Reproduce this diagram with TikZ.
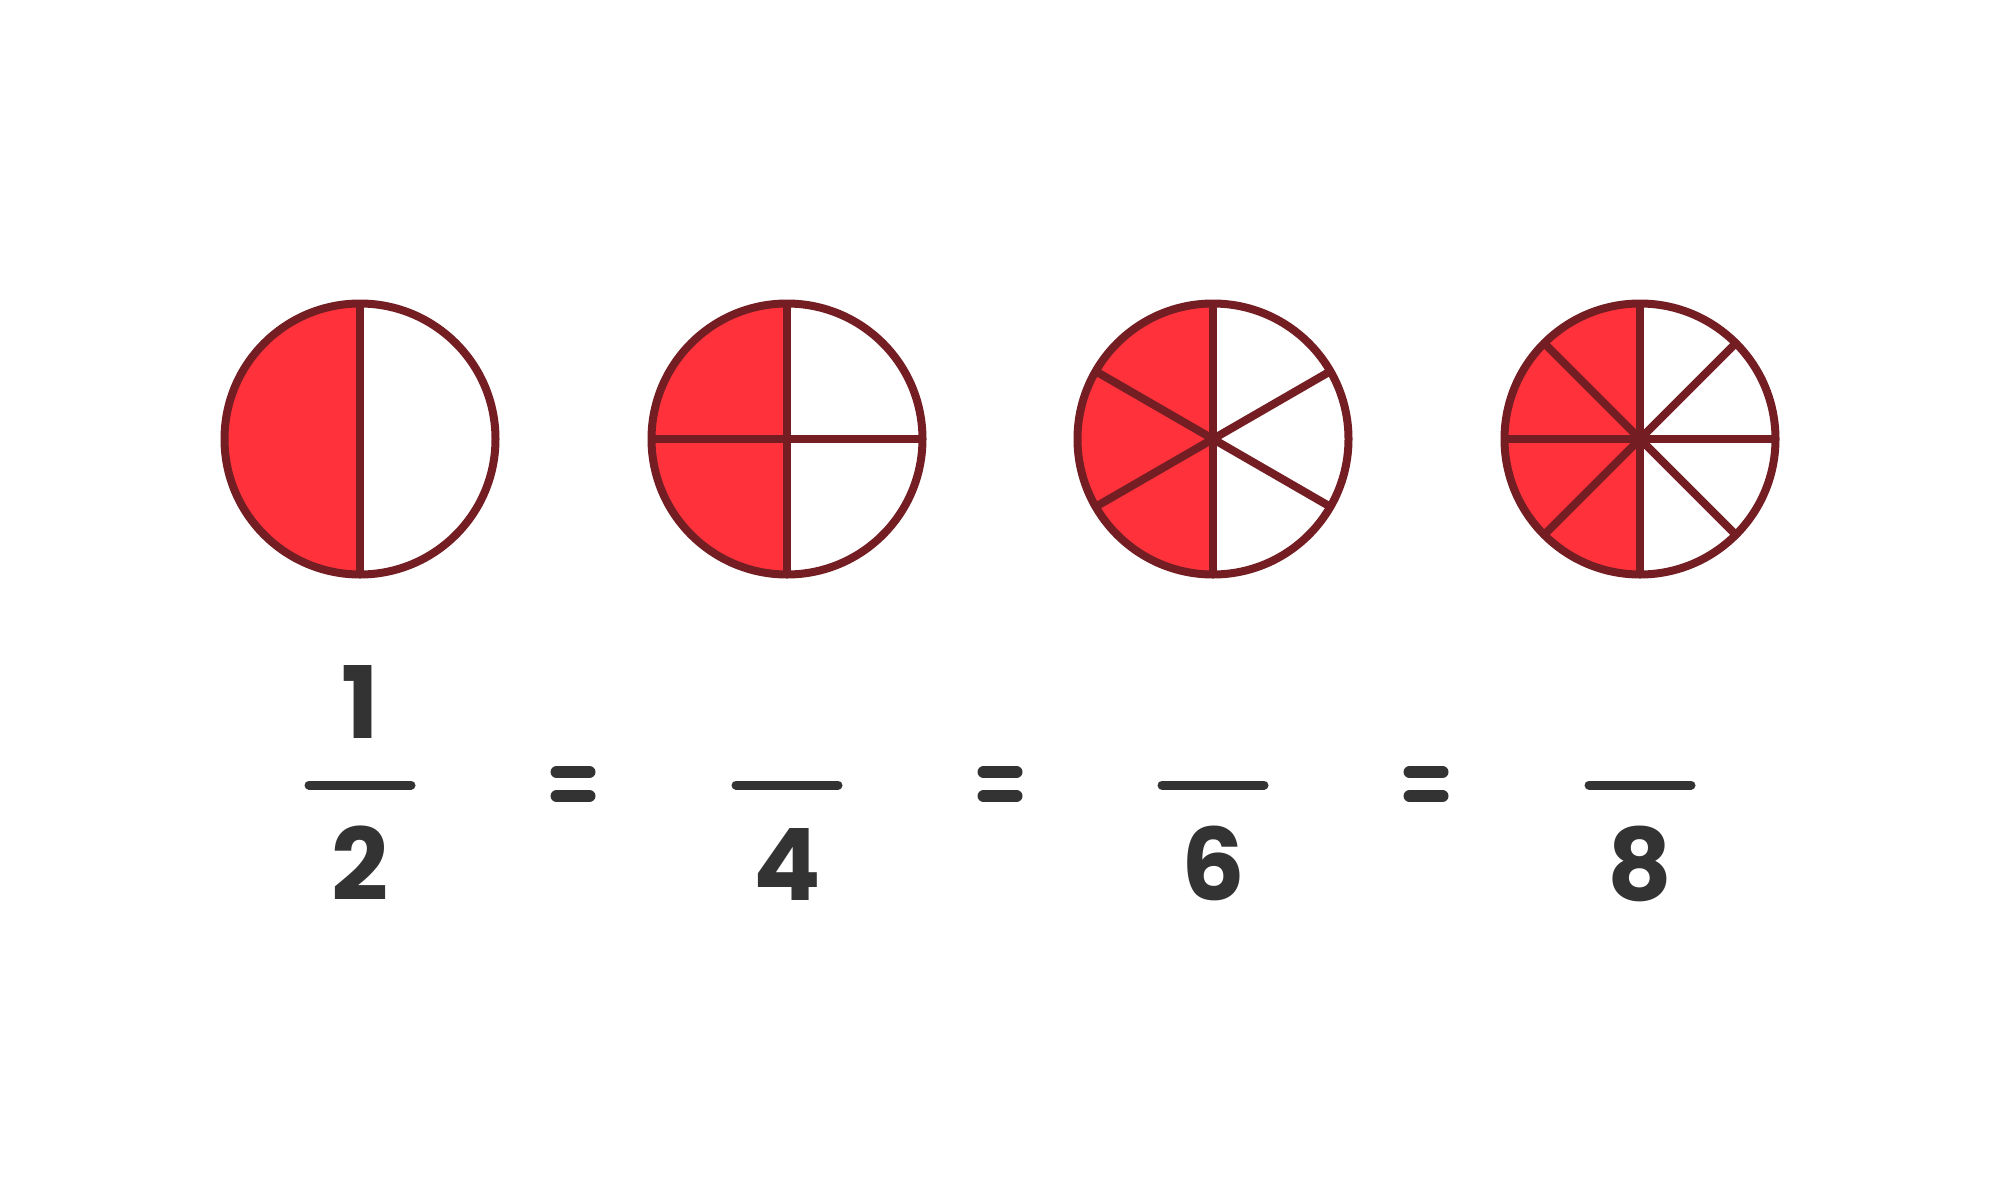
\documentclass[tikz,border=0pt]{standalone}
\usepackage{fontspec}
\setmainfont{Poppins}
\definecolor{pie}{HTML}{FF323C}
\definecolor{rim}{HTML}{741E24}
\definecolor{ink}{HTML}{333333}
\tikzset{
  rimline/.style={draw=rim,line width=8pt},
  digit/.style={anchor=base,text=ink,inner sep=0pt,font=\bfseries\fontsize{100}{100}\selectfont},
  fracbar/.style={draw=ink,line width=9pt,line cap=round},
  eqbar/.style={draw=ink,line width=12pt,line cap=round}
}
\begin{document}
\begin{tikzpicture}[x=1pt,y=-1pt]
\useasboundingbox (0,0) rectangle (2000,1200);
\fill[white] (0,0) rectangle (2000,1200);
\def\R{135.5}
\def\cy{439}
% circle 1: halves
\fill[pie] (360,\cy) -- ++(90:\R) arc[start angle=90,end angle=270,radius=\R] -- cycle;
\draw[rimline] (360,\cy) circle[radius=\R];
\draw[rimline] (360,\cy) ++(90:\R) -- ++(270:2*\R);
% circle 2: quarters
\fill[pie] (787,\cy) -- ++(90:\R) arc[start angle=90,end angle=270,radius=\R] -- cycle;
\draw[rimline] (787,\cy) circle[radius=\R];
\foreach \a in {90,0} \draw[rimline] (787,\cy) ++(\a:\R) -- ++(\a+180:2*\R);
% circle 3: sixths
\fill[pie] (1213,\cy) -- ++(90:\R) arc[start angle=90,end angle=270,radius=\R] -- cycle;
\draw[rimline] (1213,\cy) circle[radius=\R];
\foreach \a in {90,30,-30} \draw[rimline] (1213,\cy) ++(\a:\R) -- ++(\a+180:2*\R);
% circle 4: eighths
\fill[pie] (1640,\cy) -- ++(90:\R) arc[start angle=90,end angle=270,radius=\R] -- cycle;
\draw[rimline] (1640,\cy) circle[radius=\R];
\foreach \a in {90,45,0,-45} \draw[rimline] (1640,\cy) ++(\a:\R) -- ++(\a+180:2*\R);
% fractions
\node[digit] (n1) at (360,738) {1};
\draw[fracbar] (309,785) -- (411,785);
\node[digit] (d1) at (360,900) {2};
\draw[fracbar] (736,785) -- (838,785);
\node[digit] (d2) at (787,900) {4};
\draw[fracbar] (1162,785) -- (1264,785);
\node[digit] (d3) at (1213,900) {6};
\draw[fracbar] (1589,785) -- (1691,785);
\node[digit] (d4) at (1640,900) {8};
% equals
\foreach \x in {573,1000,1426} {
  \draw[eqbar] (\x-16.5,772) -- (\x+16.5,772);
  \draw[eqbar] (\x-16.5,796) -- (\x+16.5,796);
}
\end{tikzpicture}
\end{document}
